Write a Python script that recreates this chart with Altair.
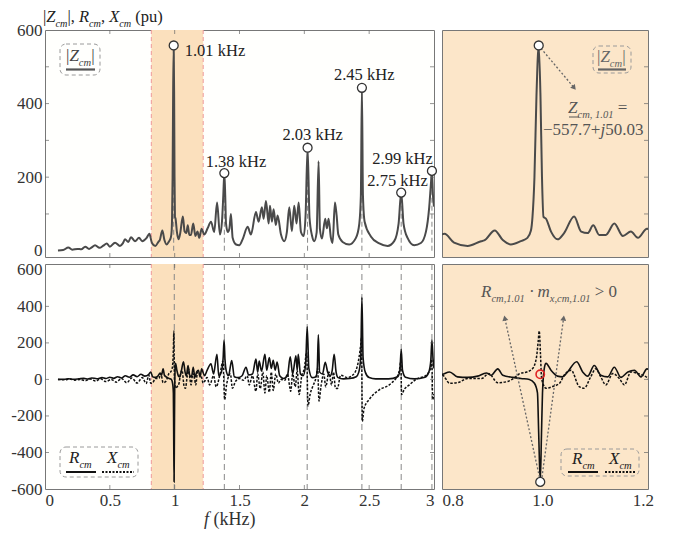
import altair as alt
import pandas as pd

FONT = "Liberation Serif"

# ---------------- data ----------------
Z_F = [0.10, 0.14, 0.18, 0.21, 0.25, 0.28, 0.31, 0.34, 0.36, 0.386, 0.42, 0.45, 0.476, 0.50, 0.54, 0.578,
       0.60, 0.617, 0.643, 0.663, 0.694, 0.725, 0.75, 0.784, 0.805, 0.824, 0.851, 0.878, 0.884, 0.905,
       0.921, 0.937, 0.957, 0.970, 0.977, 0.980, 0.984, 0.988, 0.9925, 0.996, 0.999, 1.002, 1.007,
       1.017, 1.030, 1.043, 1.063, 1.077, 1.090, 1.101, 1.113, 1.126, 1.143, 1.160, 1.176, 1.190,
       1.208, 1.228, 1.254, 1.280, 1.305, 1.327, 1.349, 1.365, 1.375, 1.383, 1.390, 1.396, 1.410,
       1.422, 1.434, 1.447, 1.473, 1.498, 1.524, 1.563, 1.588, 1.627, 1.647, 1.673, 1.686, 1.704,
       1.725, 1.735, 1.750, 1.763, 1.780, 1.794, 1.820, 1.845, 1.865, 1.884, 1.904, 1.922, 1.940,
       1.956, 1.974, 1.995, 2.010, 2.025, 2.040, 2.060, 2.076, 2.095, 2.110, 2.120, 2.136, 2.161,
       2.174, 2.187, 2.205, 2.218, 2.236, 2.249, 2.262, 2.295, 2.346, 2.398, 2.424, 2.436, 2.444,
       2.452, 2.465, 2.513, 2.578, 2.642, 2.693, 2.727, 2.747, 2.765, 2.796, 2.847, 2.899, 2.938,
       2.963, 2.976, 2.984, 2.992, 3.000]
Z_V = [1, 2, 9, 3, 5, 4, 11, 5, 9, 15, 8, 14, 20, 11, 22, 13,
       20, 31, 24, 37, 26, 35, 26, 35, 46, 22, 13, 26, 28, 55,
       29, 17, 26, 35, 55, 90, 200, 420, 558, 420, 200, 92, 87,
       52, 31, 48, 93, 52, 48, 69, 43, 43, 74, 40, 52, 35,
       60, 44, 61, 79, 51, 131, 44, 80, 150, 211, 150, 74, 51,
       60, 100, 35, 17, 15, 31, 65, 44, 105, 79, 118, 87, 135,
       74, 122, 79, 113, 70, 96, 44, 26, 50, 118, 53, 122, 74,
       131, 51, 40, 100, 280, 90, 40, 26, 50, 243, 60, 33, 87,
       61, 87, 35, 21, 131, 96, 44, 24, 17, 35, 74, 150, 443,
       150, 79, 39, 20, 13, 26, 74, 158, 74, 35, 15, 21, 52,
       118, 180, 217, 150, 120]

R_F = [0.10, 0.15, 0.18, 0.22, 0.26, 0.30, 0.33, 0.36, 0.40, 0.44, 0.47, 0.50, 0.53, 0.56, 0.59, 0.62,
       0.65, 0.68, 0.71, 0.74, 0.77, 0.801, 0.815, 0.831, 0.851, 0.871, 0.888, 0.898, 0.911, 0.921,
       0.941, 0.957, 0.974, 0.984, 0.990, 0.9925, 0.9955, 0.998, 1.000, 1.004, 1.007, 1.017, 1.030,
       1.040, 1.050, 1.068, 1.080, 1.090, 1.103, 1.116, 1.130, 1.143, 1.156, 1.170, 1.183, 1.196,
       1.208, 1.216, 1.230, 1.250, 1.280, 1.300, 1.326, 1.340, 1.360, 1.374, 1.381, 1.388, 1.400,
       1.415, 1.440, 1.460, 1.490, 1.520, 1.550, 1.570, 1.600, 1.627, 1.640, 1.652, 1.670, 1.696,
       1.710, 1.730, 1.745, 1.760, 1.775, 1.790, 1.810, 1.840, 1.870, 1.891, 1.910, 1.935, 1.945,
       1.953, 1.970, 1.990, 2.010, 2.022, 2.035, 2.060, 2.090, 2.100, 2.108, 2.118, 2.140, 2.161,
       2.180, 2.200, 2.215, 2.230, 2.245, 2.260, 2.300, 2.350, 2.400, 2.420, 2.435, 2.444, 2.453,
       2.470, 2.500, 2.550, 2.650, 2.720, 2.737, 2.747, 2.757, 2.780, 2.850, 2.930, 2.960, 2.975,
       2.984, 2.993, 3.000]
R_V = [0, 1, 4, 1, 3, 6, 2, 8, 4, 10, 5, 12, 6, 15, 8, 20,
       12, 25, 15, 28, 18, 28, 41, 14, 11, 18, 35, 23, 58, 23,
       11, 5, 0, -21, -74, -300, -561, -300, -74, 67, 88, 50, 18,
       14, 41, 97, 41, 18, 76, 23, 14, 67, 11, 41, 50, 14,
       58, 45, 20, 50, 85, 30, 138, 20, 40, 120, 215, 110, 40,
       20, 103, 15, 10, 20, 67, 25, 30, 111, 40, 100, 45, 138,
       50, 120, 60, 105, 50, 95, 20, 5, 20, 124, 30, 130, 50,
       138, 30, 20, 80, 288, 60, 10, 15, 60, 245, 40, 30, 94,
       40, 20, 50, 138, 40, 10, 3, 5, 15, 40, 120, 450, 120,
       40, 10, 3, 3, 15, 50, 165, 50, 12, 3, 12, 40, 100,
       215, 110, 60]

X_F = [0.10, 0.15, 0.19, 0.23, 0.27, 0.31, 0.35, 0.39, 0.43, 0.47, 0.51, 0.55, 0.59, 0.63, 0.67, 0.71,
       0.75, 0.78, 0.801, 0.815, 0.831, 0.851, 0.879, 0.893, 0.911, 0.930, 0.945, 0.955, 0.969, 0.980,
       0.988, 0.9915, 0.9935, 0.996, 0.998, 1.002, 1.007, 1.020, 1.034, 1.043, 1.057, 1.073, 1.083,
       1.096, 1.106, 1.116, 1.126, 1.140, 1.153, 1.163, 1.176, 1.190, 1.208, 1.220, 1.250, 1.270,
       1.300, 1.320, 1.350, 1.372, 1.386, 1.400, 1.430, 1.445, 1.470, 1.500, 1.530, 1.560, 1.575,
       1.600, 1.627, 1.640, 1.660, 1.680, 1.696, 1.710, 1.730, 1.745, 1.760, 1.780, 1.800, 1.820,
       1.850, 1.870, 1.895, 1.910, 1.930, 1.945, 1.960, 1.980, 2.000, 2.018, 2.028, 2.045, 2.064,
       2.090, 2.103, 2.113, 2.130, 2.150, 2.165, 2.190, 2.210, 2.225, 2.240, 2.255, 2.280, 2.330,
       2.372, 2.410, 2.435, 2.441, 2.447, 2.460, 2.500, 2.578, 2.655, 2.700, 2.720, 2.735, 2.744,
       2.750, 2.770, 2.810, 2.860, 2.940, 2.976, 2.983, 2.990, 3.000]
X_V = [0, -2, 2, -4, 0, -7, 2, -9, 3, -12, 0, -15, 5, -18, 8, -20,
       10, -22, 23, -21, -18, 5, 5, 32, -18, -12, 11, 32, 41, 58,
       120, 209, 265, 138, 14, -30, -48, -39, -21, 23, 50, -39, -48,
       14, 58, 14, -30, 32, 5, -30, 41, 32, 11, -20, 10, -30,
       20, -40, 30, 100, -110, -30, 30, -48, -10, 5, -5, 20, -30,
       20, -65, 30, -50, 40, -74, 20, -70, 40, -60, 30, -20, 0,
       -5, 30, -65, 30, -40, 50, -83, 20, 60, 150, -145, -80, -40,
       10, 60, -118, -30, 30, -40, 40, -30, 40, -48, -50, 23, 10,
       23, 76, 191, 230, -230, -160, -110, -57, -30, 0, 20, 58, 100,
       -83, -55, -30, 0, 23, 67, 110, -110, -80]

PEAK_F = [0.9925, 1.383, 2.025, 2.444, 2.747, 2.984]
PEAK_Z = [558, 211, 280, 443, 158, 217]
LABEL_TEXT = ["1.01 kHz", "1.38 kHz", "2.03 kHz", "2.45 kHz", "2.75 kHz", "2.99 kHz"]
LABEL_F = [1.311, 1.473, 2.064, 2.462, 2.719, 2.758]
LABEL_Z = [529, 227, 301, 463, 177, 236]
RES_F = [0.997, 1.383, 2.022, 2.444, 2.747, 2.984]
BAND = [0.82, 1.22]
MIN_F, MIN_R, RED_V = 0.9955, -561, 28
X_TICKS_L = [0.5, 1, 1.5, 2, 2.5]
Y_TICKS_T = [100, 200, 300, 400, 500]
Y_TICKS_B = [-400, -200, 0, 200, 400]
# arrows (data coordinates): start f, start v, end f, end v, head angle
ARROW_TR = [(0.997, 550, 1.063, 443, 321)]
ARROW_BR = [(0.994, -535, 0.925, 336, 348), (0.999, -535, 1.042, 336, 8)]

# ---------------- layout ----------------
W_L, W_R, H_T, H_B = 389, 206, 227, 225
BAND_COLOR = "#FBE0BD"
RIGHT_BG = "#FCE6C9"
TICK = "#666"
ONE = pd.DataFrame({"k": [0]})

xL = alt.Scale(domain=[0, 3], nice=False)
xR = alt.Scale(domain=[0.8, 1.21], nice=False)
yT = alt.Scale(domain=[-17, 600], nice=False)
yB = alt.Scale(domain=[-600, 632], nice=False)

lab = dict(labelFont=FONT, labelFontSize=17, labelColor="#333", ticks=False, domain=False,
           grid=False, title=None, labelPadding=3)
axT = alt.Axis(values=[0, 200, 400, 600], **lab)
axB = alt.Axis(values=[-600, -400, -200, 0, 200, 400, 600], labelExpr="datum.value + ''", **lab)
axXL = alt.Axis(values=[0, 0.5, 1, 1.5, 2, 2.5, 3], format="~g", labelFlush=True, **lab)
axXR = alt.Axis(values=[0.8, 1.0, 1.2], format=".1f", labelFlush=True, **lab)


def enc(scale_x, ax_x, scale_y, ax_y):
    def ex(field):
        return alt.X(field, type="quantitative", scale=scale_x, axis=ax_x)

    def ey(field):
        return alt.Y(field, type="quantitative", scale=scale_y, axis=ax_y)
    return ex, ey


ROMAN = {"|": 0.2, ",": 0.25, " ": 0.25, "(": 0.333, ")": 0.333, ".": 0.25, "=": 0.564, "+": 0.564,
         "\u2212": 0.564, "\u00b7": 0.25, ">": 0.564, "k": 0.5, "H": 0.722, "z": 0.444, "p": 0.5, "u": 0.5}
ITAL = {"Z": 0.556, "R": 0.611, "X": 0.611, "c": 0.444, "m": 0.722, "j": 0.278, "f": 0.278, "x": 0.444,
        ",": 0.25, ".": 0.25, " ": 0.25}


def runs(parts, x0, y0, size, color):
    out = []
    x = x0
    for s, st in parts:
        sz = size * 0.62 if st == "s" else size
        dy = size * 0.3 if st == "s" else 0
        tbl = ITAL if st in ("i", "s") else ROMAN
        lead = len(s) - len(s.lstrip(" "))
        body = s.strip(" ")
        if body:
            out.append(alt.Chart(ONE).mark_text(
                text=body, font=FONT, fontSize=sz, fontStyle="italic" if st in ("i", "s") else "normal",
                align="left", baseline="alphabetic", color=color
            ).encode(x=alt.value(x + lead * 0.25 * sz), y=alt.value(y0 + dy)))
        x += sum(tbl.get(ch, 0.5) for ch in s) * sz
    return out


def box(x1, y1, x2, y2):
    return alt.Chart(ONE).mark_rect(fill="white", fillOpacity=0, stroke="#9a9a9a", strokeDash=[4, 3],
                                    strokeWidth=1, cornerRadius=6).encode(
        x=alt.value(x1), x2=alt.value(x2), y=alt.value(y1), y2=alt.value(y2))


def seg(x1, x2, y, width=2, color="#222", dash=None):
    kw = dict(color=color, strokeWidth=width)
    if dash:
        kw["strokeDash"] = dash
    return alt.Chart(ONE).mark_rule(**kw).encode(x=alt.value(x1), x2=alt.value(x2), y=alt.value(y))


def ticks_x(values, ex, h):
    base = alt.Chart(pd.DataFrame({"f": values})).mark_tick(size=8, thickness=1, color=TICK, clip=True)
    return [base.encode(x=ex("f"), y=alt.value(0)), base.encode(x=ex("f"), y=alt.value(h))]


def ticks_y(values, ey, w, left=True):
    base = alt.Chart(pd.DataFrame({"v": values})).mark_tick(size=8, thickness=1, color=TICK, clip=True)
    out = [base.encode(y=ey("v"), x=alt.value(w))]
    if left:
        out.append(base.encode(y=ey("v"), x=alt.value(0)))
    return out


def arrows(spec, ex, ey, shape):
    df = pd.DataFrame(spec, columns=["f", "v", "f2", "v2", "ang"])
    out = [alt.Chart(df).mark_rule(color="#666", strokeDash=[2, 2], strokeWidth=1.3).encode(
        x=ex("f"), y=ey("v"), x2="f2", y2="v2")]
    for _, r in df.iterrows():
        out.append(alt.Chart(pd.DataFrame({"f": [r.f2], "v": [r.v2]})).mark_point(
            shape=shape, angle=float(r.ang), filled=True, color="#666", size=35, opacity=1).encode(
            x=ex("f"), y=ey("v")))
    return out


zdf = pd.DataFrame({"f": Z_F, "v": Z_V})
rdf = pd.DataFrame({"f": R_F, "v": R_V})
xdf = pd.DataFrame({"f": X_F, "v": X_V})
band_df = pd.DataFrame({"f": [BAND[0]], "f2": [BAND[1]]})
bandline_df = pd.DataFrame({"f": BAND})
peak_df = pd.DataFrame({"f": PEAK_F, "v": PEAK_Z, "lo": [0] * len(PEAK_F)})
label_df = pd.DataFrame({"f": LABEL_F, "v": LABEL_Z, "t": LABEL_TEXT})
res_df = pd.DataFrame({"f": RES_F})

LINE_Z = dict(color="#4a4a4a", strokeWidth=2, clip=True, interpolate="monotone")
LINE_R = dict(color="#111", strokeWidth=1.6, clip=True, interpolate="monotone")
LINE_X = dict(color="#111", strokeWidth=1.5, strokeDash=[2.5, 1.5], clip=True, interpolate="monotone")

# ---------------- top-left ----------------
ex, ey = enc(xL, None, yT, axT)
tl = [
    alt.Chart(band_df).mark_rect(color=BAND_COLOR).encode(x=ex("f"), x2="f2"),
    alt.Chart(bandline_df).mark_rule(color="#EE9A9A", strokeDash=[4, 3]).encode(x=ex("f")),
    alt.Chart(peak_df).mark_rule(color="#888", strokeDash=[5, 3]).encode(x=ex("f"), y=ey("lo"), y2="v"),
    alt.Chart(zdf).mark_line(**LINE_Z).encode(x=ex("f"), y=ey("v")),
    *ticks_x(X_TICKS_L, ex, H_T),
    *ticks_y(Y_TICKS_T, ey, W_L),
    alt.Chart(peak_df).mark_circle(color="white", stroke="#333", strokeWidth=1.3, size=80, opacity=1).encode(
        x=ex("f"), y=ey("v")),
    alt.Chart(label_df).mark_text(font=FONT, fontSize=16.5, color="#222", align="center",
                                  baseline="alphabetic").encode(x=ex("f"), y=ey("v"), text="t:N"),
    box(15, 14, 55, 45),
    *runs([("|", "n"), ("Z", "i"), ("cm", "s"), ("|", "n")], 21, 31, 17, "#444"),
    seg(21, 50, 39.5, 2.2, "#555"),
    *runs([("|", "n"), ("Z", "i"), ("cm", "s"), ("|, ", "n"), ("R", "i"), ("cm", "s"), (", ", "n"),
           ("X", "i"), ("cm", "s"), (" (pu)", "n")], -2, -8, 16.5, "#222"),
]
TL = alt.layer(*tl).properties(width=W_L, height=H_T,
                               view=alt.ViewBackground(fill="#FFFFFD", stroke="#777", strokeWidth=1))

# ---------------- top-right ----------------
ex, ey = enc(xR, None, yT, None)
tr = [
    alt.Chart(zdf).mark_line(**LINE_Z).encode(x=ex("f"), y=ey("v")),
    *ticks_y(Y_TICKS_T, ey, W_R, left=False),
    *arrows(ARROW_TR, ex, ey, "triangle-down"),
    alt.Chart(peak_df.iloc[:1]).mark_circle(color="white", stroke="#333", strokeWidth=1.3, size=80,
                                            opacity=1).encode(x=ex("f"), y=ey("v")),
    box(151, 16, 189, 43),
    *runs([("|", "n"), ("Z", "i"), ("cm", "s"), ("|", "n")], 155, 32, 17, "#666"),
    seg(156, 184, 39.5, 2.2, "#666"),
    *runs([("Z", "i"), ("cm, 1.01", "s"), (" =", "n")], 126, 83, 17, "#555"),
    seg(127, 137, 87, 1, "#555"),
    *runs([("\u2212557.7+", "n"), ("j", "i"), ("50.03", "n")], 101, 105, 17, "#555"),
]
TR = alt.layer(*tr).properties(width=W_R, height=H_T,
                               view=alt.ViewBackground(fill=RIGHT_BG, stroke="#777", strokeWidth=1))

# ---------------- bottom-left ----------------
ex, ey = enc(xL, axXL, yB, axB)
bl = [
    alt.Chart(band_df).mark_rect(color=BAND_COLOR).encode(x=ex("f"), x2="f2"),
    alt.Chart(bandline_df).mark_rule(color="#EE9A9A", strokeDash=[4, 3]).encode(x=ex("f")),
    alt.Chart(res_df).mark_rule(color="#888", strokeDash=[6, 4]).encode(x=ex("f")),
    alt.Chart(xdf).mark_line(**LINE_X).encode(x=ex("f"), y=ey("v")),
    alt.Chart(rdf).mark_line(**LINE_R).encode(x=ex("f"), y=ey("v")),
    *ticks_x(X_TICKS_L, ex, H_B),
    *ticks_y(Y_TICKS_B, ey, W_L),
    box(15, 183, 93, 213),
    *runs([("R", "i"), ("cm", "s")], 24, 199, 17, "#222"),
    *runs([("X", "i"), ("cm", "s")], 62, 199, 17, "#222"),
    seg(21, 51, 208, 2, "#111"),
    seg(57, 89, 208, 2, "#111", [2, 1.5]),
    *runs([("f", "i"), (" (kHz)", "n")], 159, H_B + 36, 18, "#333"),
]
BL = alt.layer(*bl).properties(width=W_L, height=H_B,
                               view=alt.ViewBackground(fill="#FFFFFD", stroke="#777", strokeWidth=1))

# ---------------- bottom-right ----------------
ex, ey = enc(xR, axXR, yB, None)
pt_df = pd.DataFrame({"f": [MIN_F], "v": [MIN_R], "red": [RED_V]})
br = [
    alt.Chart(xdf).mark_line(**LINE_X).encode(x=ex("f"), y=ey("v")),
    alt.Chart(rdf).mark_line(**LINE_R).encode(x=ex("f"), y=ey("v")),
    *ticks_y(Y_TICKS_B, ey, W_R, left=False),
    *arrows(ARROW_BR, ex, ey, "triangle-up"),
    alt.Chart(pt_df).mark_circle(color="white", stroke="#333", strokeWidth=1.3, size=80, opacity=1).encode(
        x=ex("f"), y=ey("v")),
    alt.Chart(pt_df).mark_point(color="#E02424", strokeWidth=1.6, size=70, opacity=1).encode(
        x=ex("f"), y=ey("red")),
    box(119, 185, 197, 212),
    *runs([("R", "i"), ("cm", "s")], 130, 200, 17, "#222"),
    *runs([("X", "i"), ("cm", "s")], 167, 200, 17, "#222"),
    seg(126, 156, 208, 2, "#111"),
    seg(163, 193, 208, 2, "#111", [2, 1.5]),
    *runs([("R", "i"), ("cm,1.01", "s"), (" \u00b7 ", "n"), ("m", "i"), ("x,cm,1.01", "s"), (" > 0", "n")],
          39, 33, 17, "#555"),
]
BR = alt.layer(*br).properties(width=W_R, height=H_B,
                               view=alt.ViewBackground(fill=RIGHT_BG, stroke="#777", strokeWidth=1))

chart = alt.concat(TL, TR, BL, BR, columns=2, spacing={"row": 7, "column": 8}, bounds="flush",
                   align="each").properties(
    padding={"left": 2, "top": 0, "right": 2, "bottom": 2}
).configure(font=FONT).configure_view(stroke="#777", strokeWidth=1)

chart.save("out.html", embed_options={"renderer": "svg", "actions": False})
